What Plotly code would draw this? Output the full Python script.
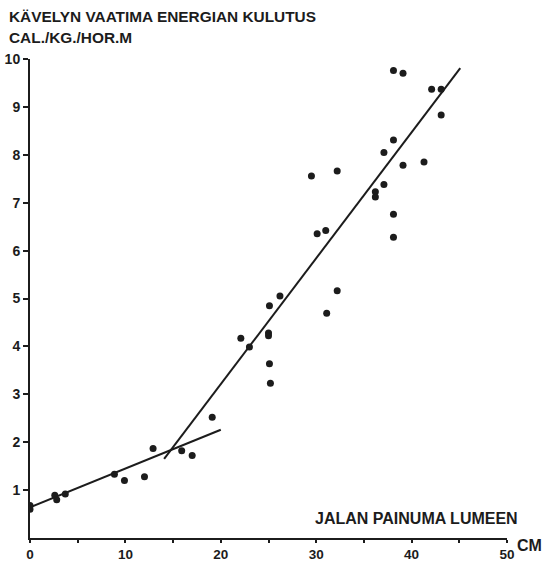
import plotly.graph_objects as go

# Data points (depth of foot in snow, cm ; energy cal/kg/hor.m)
depth_cm = [0, 0, 2.6, 2.8, 3.7, 8.85, 9.9, 12.0, 12.9, 15.9, 17.0, 19.1,
            22.1, 23.0, 25.0, 25.0, 25.1, 25.1, 25.2, 26.2,
            29.5, 30.1, 31.0, 31.1, 32.2, 32.2,
            36.2, 36.2, 37.1, 37.1, 38.1, 38.1, 38.1, 38.1, 39.1, 39.1,
            41.3, 42.1, 43.1, 43.1]
energy = [0.60, 0.68, 0.89, 0.80, 0.92, 1.33, 1.20, 1.28, 1.87, 1.82, 1.72, 2.52,
          4.17, 3.99, 4.28, 4.22, 4.85, 3.64, 3.23, 5.05,
          7.56, 6.35, 6.42, 4.69, 5.16, 7.66,
          7.23, 7.12, 8.05, 7.38, 9.76, 8.31, 6.76, 6.28, 9.70, 7.78,
          7.85, 9.37, 9.37, 8.83]

# Fitted lines
line1_x = [0, 20.0]
line1_y = [0.64, 2.26]
line2_x = [14.06, 45.1]
line2_y = [1.65, 9.81]

x_ticks = [0, 10, 20, 30, 40, 50]
x_minor = [5, 15, 25, 35, 45]
y_ticks = [1, 2, 3, 4, 5, 6, 7, 8, 9, 10]

ink = "#1c1c1c"
font_fam = "Liberation Sans, Arial, sans-serif"

fig = go.Figure()
fig.add_trace(go.Scatter(x=line1_x, y=line1_y, mode="lines",
                         line=dict(color=ink, width=2), hoverinfo="skip"))
fig.add_trace(go.Scatter(x=line2_x, y=line2_y, mode="lines",
                         line=dict(color=ink, width=2), hoverinfo="skip"))
fig.add_trace(go.Scatter(x=depth_cm, y=energy, mode="markers",
                         marker=dict(color=ink, size=7)))

fig.update_layout(
    width=545, height=565,
    margin=dict(l=30, r=38, t=59, b=27),
    paper_bgcolor="white", plot_bgcolor="white",
    showlegend=False,
    font=dict(family=font_fam, color=ink, size=14),
    xaxis=dict(range=[0, 50], tickvals=x_ticks, ticktext=[str(v) for v in x_ticks],
               automargin=False,
               showgrid=False, zeroline=False, showline=True, linecolor=ink, linewidth=2,
               ticks="outside", ticklen=3, tickwidth=2, tickcolor=ink,
               tickfont=dict(size=13.5, family=font_fam, weight="bold"),
               minor=dict(tickvals=x_minor, ticks="outside", ticklen=3, tickwidth=2, tickcolor=ink),
               fixedrange=True),
    yaxis=dict(range=[0, 10], tickvals=y_ticks, automargin=False,
               showgrid=False, zeroline=False, showline=True, linecolor=ink, linewidth=2,
               ticks="outside", ticklen=5, tickwidth=2, tickcolor=ink,
               tickfont=dict(size=14, family=font_fam, weight="bold"),
               fixedrange=True),
    annotations=[
        dict(text="KÄVELYN VAATIMA ENERGIAN KULUTUS", xref="paper", yref="paper",
             x=-0.048, y=1.088, xanchor="left", yanchor="middle", showarrow=False,
             font=dict(size=15.4, family=font_fam, weight="bold", color=ink)),
        dict(text="CAL./KG./HOR.M", xref="paper", yref="paper",
             x=-0.048, y=1.045, xanchor="left", yanchor="middle", showarrow=False,
             font=dict(size=15.4, family=font_fam, weight="bold", color=ink)),
        dict(text="JALAN PAINUMA LUMEEN", xref="paper", yref="paper",
             x=0.594, y=0.040, xanchor="left", yanchor="middle", showarrow=False,
             font=dict(size=16, family=font_fam, weight="bold", color=ink)),
        dict(text="CM", xref="paper", yref="paper",
             x=1.016, y=-0.016, xanchor="left", yanchor="middle", showarrow=False,
             font=dict(size=16, family=font_fam, weight="bold", color=ink)),
    ],
)

fig.write_html("out.html")
